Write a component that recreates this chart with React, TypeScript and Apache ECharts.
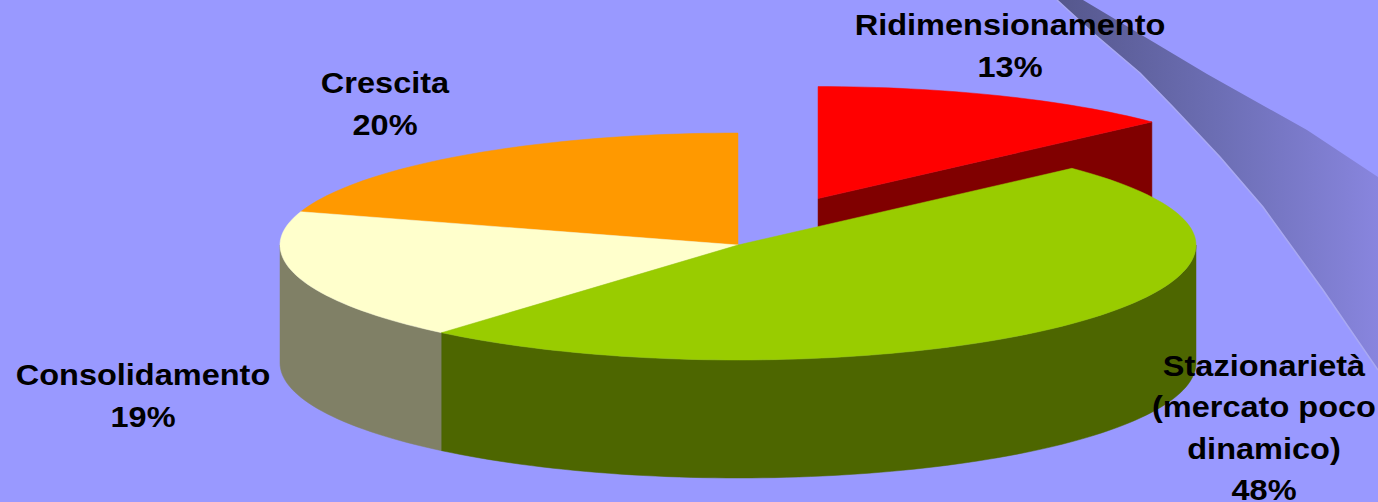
import React, { useEffect, useRef } from "react";
import * as echarts from "echarts";

const sliceNames = ["Ridimensionamento", "Stazionarietà\n(mercato poco\ndinamico)", "Consolidamento", "Crescita"];
const sliceValues = [13, 48.2, 18.6, 20.2];
const sliceColors = ["#ff0000", "#99cc00", "#ffffcc", "#ff9900"];
const wallColors = ["#800000", "#4d6600", "#808066", "#804d00"];
const explodedSlices = [0.44, 0, 0, 0];
const labelCentres = [
  [1010, 46],
  [1264, 428],
  [143, 396],
  [385, 104],
];

const W = 1378;
const H = 502;
const CX = 738;
const CY = 245;
const RX = 458;
const RY_BACK = 112;
const RY_FRONT = 115;
const DEPTH = 118;
const TAU = Math.PI * 2;
const total = sliceValues.reduce((a, b) => a + b, 0);

function point(a: number, ox: number, oy: number, drop = 0): number[] {
  const c = Math.cos(a);
  return [CX + ox + RX * Math.sin(a), CY + oy + drop - (c >= 0 ? RY_BACK : RY_FRONT) * c];
}

function arc(a0: number, a1: number, ox: number, oy: number, drop = 0): number[][] {
  const n = Math.max(2, Math.ceil(((a1 - a0) / TAU) * 240));
  const pts: number[][] = [];
  for (let i = 0; i <= n; i++) pts.push(point(a0 + ((a1 - a0) * i) / n, ox, oy, drop));
  return pts;
}

function renderSlice(_: any, api: any) {
  const i = api.value(0);
  const before = sliceValues.slice(0, i).reduce((a, b) => a + b, 0);
  const a0 = (before / total) * TAU;
  const a1 = ((before + api.value(1)) / total) * TAU;
  const mid = (a0 + a1) / 2;
  const ex = explodedSlices[i];
  const ox = ex * RX * Math.sin(mid);
  const oy = -ex * (Math.cos(mid) >= 0 ? RY_FRONT : RY_BACK) * Math.cos(mid);
  const centre = [CX + ox, CY + oy];
  const children: any[] = [];
  const wall = { fill: wallColors[i], stroke: wallColors[i], lineWidth: 0.5 };
  // visible outer wall: the front half of the ellipse
  const w0 = Math.max(a0, Math.PI / 2);
  const w1 = Math.min(a1, (Math.PI * 3) / 2);
  if (w1 > w0) {
    const top = arc(w0, w1, ox, oy);
    const bottom = arc(w0, w1, ox, oy, DEPTH).reverse();
    children.push({ type: "polygon", shape: { points: [...top, ...bottom] }, style: wall });
  }
  // cut face of an exploded slice
  if (ex > 0) {
    const edge = point(a1, ox, oy);
    children.push({
      type: "polygon",
      shape: {
        points: [centre, edge, [edge[0], edge[1] + DEPTH], [centre[0], centre[1] + DEPTH]],
      },
      style: wall,
    });
  }
  children.push({
    type: "polygon",
    shape: { points: [centre, ...arc(a0, a1, ox, oy)] },
    style: { fill: sliceColors[i], stroke: sliceColors[i], lineWidth: 0.5 },
  });
  return { type: "group", children };
}

function renderLabel(_: any, api: any) {
  const i = api.value(0);
  const [x, y] = labelCentres[i];
  return {
    type: "text",
    x,
    y,
    scaleX: 1.084,
    style: {
      text: `${sliceNames[i]}\n${Math.round(api.value(1))}%`,
      x: 0,
      y: 0,
      fill: "#000000",
      font: 'bold 30px "Liberation Sans", Arial, sans-serif',
      lineHeight: 41.5,
      align: "center",
      verticalAlign: "middle",
    },
  };
}

export default function App() {
  const ref = useRef<HTMLDivElement>(null);
  useEffect(() => {
    document.body.style.margin = "0";
    const chart = echarts.init(ref.current!, undefined, { renderer: "svg" });
    // draw order: the exploded slice first, so the large slice overlaps its cut face
    const seriesData = [0, 3, 2, 1].map((i) => [i, sliceValues[i]]);
    chart.setOption({
      animation: false,
      backgroundColor: "#9999ff",
      graphic: [
        {
          type: "polygon",
          z: 0,
          shape: {
            points: [
              [1057, 0], [1083, 0], [1207, 74], [1307, 130], [1378, 177], [1378, 370],
              [1323, 290], [1263, 207], [1220, 157], [1173, 107], [1140, 73], [1093, 33],
            ],
          },
          style: {
            fill: {
              type: "linear", x: 0, y: 0, x2: 1, y2: 0,
              colorStops: [
                { offset: 0, color: "#55578c" },
                { offset: 0.5, color: "#6c6eb4" },
                { offset: 1, color: "#8885de" },
              ],
            },
          },
        },
        {
          type: "polyline",
          z: 1,
          shape: {
            points: [[1057, 0], [1093, 33], [1140, 73], [1173, 107], [1220, 157], [1263, 207], [1323, 290], [1378, 370]],
          },
          style: { stroke: "#a9a9f2", lineWidth: 1.5, fill: "none" },
        },
      ],
      series: [
        { type: "custom", coordinateSystem: "none", renderItem: renderSlice, data: seriesData, z: 2, silent: true },
        {
          type: "custom",
          coordinateSystem: "none",
          renderItem: renderLabel,
          data: sliceValues.map((v, i) => [i, v]),
          z: 5,
          silent: true,
        },
      ],
    });
    return () => chart.dispose();
  }, []);
  return <div ref={ref} style={{ width: W, height: H }} />;
}
